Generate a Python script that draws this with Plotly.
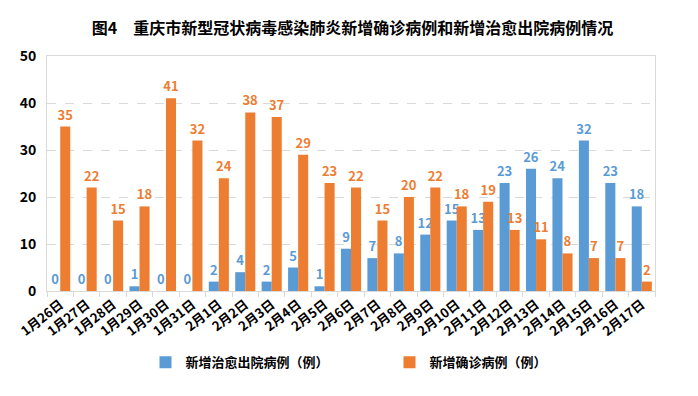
import plotly.graph_objects as go

categories = ["1月26日","1月27日","1月28日","1月29日","1月30日","1月31日","2月1日","2月2日","2月3日","2月4日","2月5日","2月6日","2月7日","2月8日","2月9日","2月10日","2月11日","2月12日","2月13日","2月14日","2月15日","2月16日","2月17日"]
cured = [0,0,0,1,0,0,2,4,2,5,1,9,7,8,12,15,13,23,26,24,32,23,18]
confirmed = [35,22,15,18,41,32,24,38,37,29,23,22,15,20,22,18,19,13,11,8,7,7,2]
y_ticks = [0,10,20,30,40,50]

BLUE = "#5B9BD5"
ORANGE = "#ED7D31"
FONT = "Noto Sans CJK SC"

fig = go.Figure()
fig.add_trace(go.Bar(
    x=categories, y=cured, name="新增治愈出院病例（例）",
    marker=dict(color=BLUE, line=dict(width=0)),
    text=cured, textposition="outside", texttemplate="%{text}",
    textfont=dict(color=BLUE, size=13, family=FONT, weight="bold"),
    cliponaxis=False,
))
fig.add_trace(go.Bar(
    x=categories, y=confirmed, name="新增确诊病例（例）",
    marker=dict(color=ORANGE, line=dict(width=0)),
    text=confirmed, textposition="outside", texttemplate="%{text}",
    textfont=dict(color=ORANGE, size=13, family=FONT, weight="bold"),
    cliponaxis=False,
))

fig.update_layout(
    width=698, height=396,
    margin=dict(l=47, r=43, t=56, b=105, autoexpand=False),
    paper_bgcolor="white", plot_bgcolor="white",
    font=dict(family=FONT, color="black"),
    title=dict(text="<b>图4　重庆市新型冠状病毒感染肺炎新增确诊病例和新增治愈出院病例情况</b>",
               x=0.505, xanchor="center", y=0.928, yanchor="middle",
               font=dict(size=16, family=FONT, color="black")),
    barmode="group", bargap=0.24, bargroupgap=0,
    uniformtext=dict(mode="show", minsize=13),
    showlegend=True,
    legend=dict(orientation="h", x=0.162, xanchor="left", y=-0.24, yanchor="top",
                entrywidth=199, entrywidthmode="pixels",
                font=dict(size=13, family=FONT, color="black", weight="bold"),
                itemwidth=30, tracegroupgap=0),
    xaxis=dict(showline=True, linecolor="#D9D9D9", linewidth=1, mirror=True,
               ticks="outside", ticklen=5, tickcolor="#D9D9D9",
               tickson="boundaries", automargin=False,
               tickangle=-38,
               tickfont=dict(size=13, family=FONT, color="black", weight="bold")),
    yaxis=dict(range=[0,50], tickvals=y_ticks, showline=True, linecolor="#D9D9D9",
               linewidth=1, mirror=True, automargin=False,
               showgrid=True, gridcolor="#D9D9D9", griddash="dash", gridwidth=1,
               zeroline=False,
               tickfont=dict(size=14, family=FONT, color="black", weight="bold"),
               ticklabelstandoff=7),
)

fig.write_html("out.html", config={"displayModeBar": False},
               post_script="document.body.style.margin='0';")
